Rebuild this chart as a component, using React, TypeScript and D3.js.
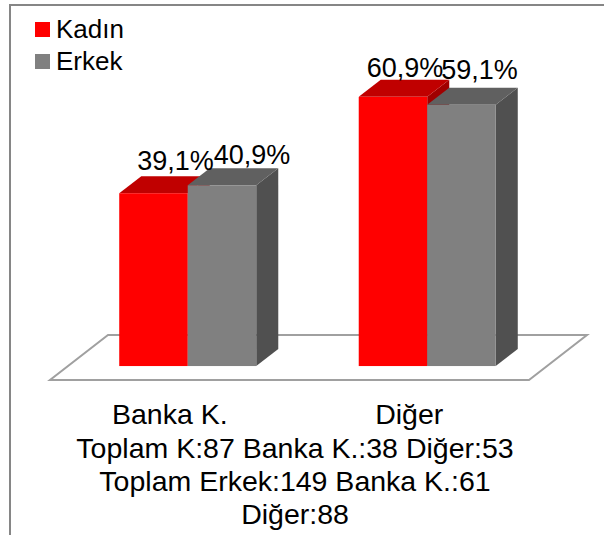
import React from "react";
import * as d3 from "d3";

const categories = ["Banka K.", "Diğer"];
const seriesNames = ["Kadın", "Erkek"];
const kadinValues = [39.1, 60.9];
const erkekValues = [40.9, 59.1];
const valueLabels = [["39,1%", "40,9%"], ["60,9%", "59,1%"]];
const titleLines = [
  "Toplam K:87 Banka K.:38 Diğer:53",
  "Toplam Erkek:149 Banka K.:61",
  "Diğer:88",
];

const W = 604;
const H = 535;
const FONT = "'Liberation Sans', Arial, sans-serif";

const faceColors = [
  { front: "#FF0000", top: "#C00000", side: "#A00000" },
  { front: "#808080", top: "#606060", side: "#505050" },
];

export default function App() {
  const floorFrontY = 380;
  const floorLeft = 50;
  const floorRight = 529;
  const depth = { dx: 58, dy: -45 };
  const barFrontFrac = 0.31;
  const barBackFrac = 0.69;

  const x0 = d3.scaleBand<string>().domain(categories).range([floorLeft, floorRight]).paddingInner(0).paddingOuter(0);
  const groupW = 137;
  const x1 = d3.scaleBand<string>().domain(seriesNames).range([0, groupW]);

  const baseY = floorFrontY + depth.dy * barFrontFrac; // bar bottom at its front face
  const y = d3.scaleLinear().domain([0, 70]).range([baseY, baseY - 70 * 4.42]);

  const offX = depth.dx * barFrontFrac;
  const bdx = depth.dx * (barBackFrac - barFrontFrac);
  const bdy = depth.dy * (barBackFrac - barFrontFrac);

  const series = [kadinValues, erkekValues];
  const nudges = [
    [[0, -6], [8, -4]],
    [[-10, -3], [-4, -9]],
  ];

  const floorPts = [
    [floorLeft, floorFrontY],
    [floorRight, floorFrontY],
    [floorRight + depth.dx, floorFrontY + depth.dy],
    [floorLeft + depth.dx, floorFrontY + depth.dy],
  ];

  const bars: React.ReactNode[] = [];
  const labels: React.ReactNode[] = [];
  categories.forEach((cat, ci) => {
    const gx = (x0(cat) as number) + (x0.bandwidth() - groupW) / 2 + offX;
    seriesNames.forEach((s, si) => {
      const v = series[si][ci];
      const bx = gx + (x1(s) as number);
      const bw = x1.bandwidth();
      const ty = y(v);
      const by = y(0);
      const c = faceColors[si];
      const side = `M${bx + bw},${by} L${bx + bw + bdx},${by + bdy} L${bx + bw + bdx},${ty + bdy} L${bx + bw},${ty} Z`;
      const top = `M${bx},${ty} L${bx + bdx},${ty + bdy} L${bx + bw + bdx},${ty + bdy} L${bx + bw},${ty} Z`;
      bars.push(
        <g key={`${ci}-${si}`}>
          <path d={side} fill={c.side} />
          <path d={top} fill={c.top} />
          <rect x={bx} y={ty} width={bw} height={by - ty} fill={c.front} />
        </g>
      );
      const [ndx, ndy] = nudges[ci][si];
      labels.push(
        <text
          key={`l${ci}-${si}`}
          x={bx + bdx + bw / 2 + ndx}
          y={ty + bdy + ndy}
          textAnchor="middle"
          fontFamily={FONT}
          fontSize={27}
          fill="#000"
        >
          {valueLabels[ci][si]}
        </text>
      );
    });
  });

  return (
    <svg
      width={W}
      height={H}
      style={{ position: "absolute", left: 0, top: 0, background: "#fff" }}
    >
      <rect x={0} y={0} width={W} height={H} fill="#fff" />
      <rect x={10} y={5} width={W + 50} height={H + 50} fill="none" stroke="#868686" strokeWidth={2} />
      <polygon
        points={floorPts.map((p) => p.join(",")).join(" ")}
        fill="#fff"
        stroke="#A0A0A0"
        strokeWidth={2}
      />
      {bars}
      {labels}
      {seriesNames.map((s, i) => (
        <g key={s}>
          <rect x={35} y={22 + i * 32} width={15} height={15} fill={faceColors[i].front} />
          <text x={56} y={38 + i * 32} fontFamily={FONT} fontSize={26} fill="#000">
            {s}
          </text>
        </g>
      ))}
      {categories.map((c) => (
        <text
          key={c}
          x={(x0(c) as number) + x0.bandwidth() / 2}
          y={424}
          textAnchor="middle"
          fontFamily={FONT}
          fontSize={28.5}
          fill="#000"
        >
          {c}
        </text>
      ))}
      {titleLines.map((t, i) => (
        <text
          key={i}
          x={295}
          y={458 + i * 33}
          textAnchor="middle"
          fontFamily={FONT}
          fontSize={28.5}
          fill="#000"
        >
          {t}
        </text>
      ))}
    </svg>
  );
}
